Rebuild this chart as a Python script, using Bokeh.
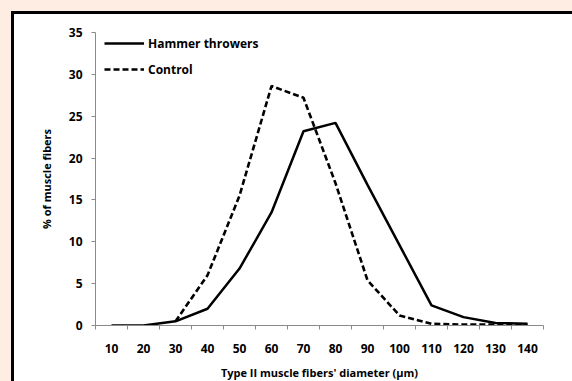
from bokeh.plotting import figure
from bokeh.models import FixedTicker, Legend, LegendItem, Range1d
from bokeh.embed import file_html
from bokeh.resources import INLINE
import numpy as np

# ---- data ----
diameters = [10, 20, 30, 40, 50, 60, 70, 80, 90, 100, 110, 120, 130, 140]
hammer = [0.0, 0.0, 0.5, 2.0, 6.8, 13.5, 23.2, 24.2, 16.8, 9.6, 2.4, 1.0, 0.3, 0.2]
control = [np.nan, np.nan, 0.5, 6.0, 15.5, 28.6, 27.2, 17.0, 5.4, 1.2, 0.2, 0.1, 0.1, 0.1]
y_ticks = [0, 5, 10, 15, 20, 25, 30, 35]
x_title = "Type II muscle fibers' diameter (\u00b5m)"
y_title = "% of muscle fibers"
series_names = ["Hammer throwers", "Control"]

FONT = "Open Sans"
PEACH = "#FDEDE3"
AXIS_GRAY = "#8A8A8A"

p = figure(width=560, height=370, output_backend="svg", toolbar_location=None,
           x_range=Range1d(5, 145), y_range=Range1d(0, 35),
           min_border_left=81, min_border_right=31, min_border_top=18, min_border_bottom=59)
p.background_fill_color = "white"
p.border_fill_color = "white"
p.outline_line_color = None
p.xgrid.grid_line_color = None
p.ygrid.grid_line_color = None

r1 = p.line(diameters, hammer, line_color="black", line_width=2.5)
r2 = p.line(diameters, control, line_color="black", line_width=2.6, line_dash="6 3")

# x axis
xa = p.xaxis[0]
minor = [d - 5 for d in diameters] + [diameters[-1] + 5]
xa.ticker = FixedTicker(ticks=diameters, minor_ticks=minor)
xa.major_tick_out = 0
xa.major_tick_in = 0
xa.minor_tick_out = 4
xa.minor_tick_in = 0
xa.minor_tick_line_color = AXIS_GRAY
xa.axis_line_color = AXIS_GRAY
xa.major_label_text_font = FONT
xa.major_label_text_font_style = "bold"
xa.major_label_text_font_size = "12px"
xa.major_label_text_color = "black"
xa.major_label_standoff = 14
xa.axis_label = x_title
xa.axis_label_text_font = FONT
xa.axis_label_text_font_style = "bold"
xa.axis_label_text_font_size = "11px"
xa.axis_label_text_color = "black"
xa.axis_label_standoff = 9

# y axis
ya = p.yaxis[0]
ya.ticker = FixedTicker(ticks=y_ticks, minor_ticks=[])
ya.major_tick_out = 4
ya.major_tick_in = 0
ya.major_tick_line_color = AXIS_GRAY
ya.axis_line_color = AXIS_GRAY
ya.major_label_text_font = FONT
ya.major_label_text_font_style = "bold"
ya.major_label_text_font_size = "12px"
ya.major_label_text_color = "black"
ya.major_label_standoff = 9
ya.axis_label = y_title
ya.axis_label_text_font = FONT
ya.axis_label_text_font_style = "bold"
ya.axis_label_text_font_size = "11px"
ya.axis_label_text_color = "black"
ya.axis_label_standoff = 12

legend = Legend(items=[LegendItem(label=series_names[0], renderers=[r1]),
                       LegendItem(label=series_names[1], renderers=[r2])],
                location=(9, 246), margin=0, padding=0, spacing=6,
                glyph_width=40, glyph_height=20, label_height=20, label_standoff=4,
                label_text_font=FONT, label_text_font_style="bold",
                label_text_font_size="12px", label_text_color="black",
                border_line_color=None, background_fill_alpha=0)
p.add_layout(legend)

html = file_html(p, INLINE)
css = ("<style>html{background:%s;overflow:hidden;}"
       "body{margin:11px 0 0 11px;border-top:3px solid #000;border-left:3px solid #000;"
       "background:#fff;overflow:hidden;}</style>" % PEACH)
html = html.replace("</head>", css + "</head>")
open("out.html", "w").write(html)
